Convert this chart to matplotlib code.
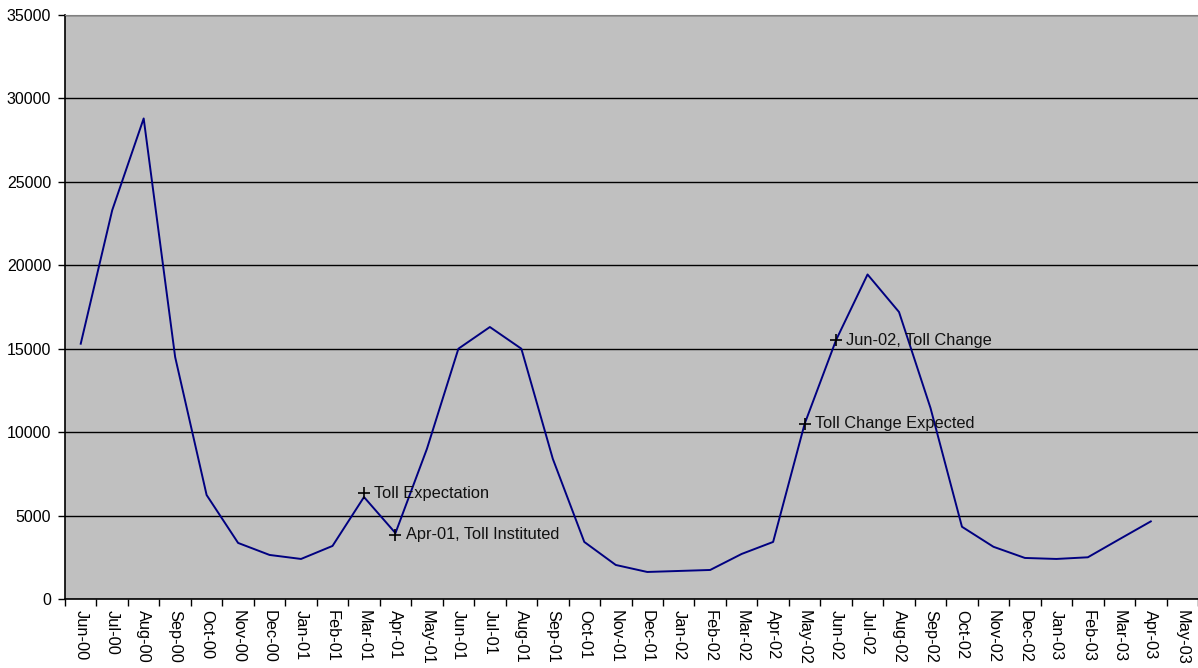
import matplotlib.pyplot as plt
import numpy as np

plt.rcParams['font.family'] = ['Liberation Sans', 'DejaVu Sans']

months = ['Jun-00', 'Jul-00', 'Aug-00', 'Sep-00', 'Oct-00', 'Nov-00', 'Dec-00',
          'Jan-01', 'Feb-01', 'Mar-01', 'Apr-01', 'May-01', 'Jun-01', 'Jul-01',
          'Aug-01', 'Sep-01', 'Oct-01', 'Nov-01', 'Dec-01', 'Jan-02', 'Feb-02',
          'Mar-02', 'Apr-02', 'May-02', 'Jun-02', 'Jul-02', 'Aug-02', 'Sep-02',
          'Oct-02', 'Nov-02', 'Dec-02', 'Jan-03', 'Feb-03', 'Mar-03', 'Apr-03',
          'May-03']

traffic = [15300, 23300, 28800, 14500, 6230, 3360, 2640, 2400, 3180, 6110,
           3950, 9000, 15000, 16300, 15000, 8400, 3420, 2040, 1620, 1680,
           1740, 2700, 3420, 10490, 15520, 19450, 17200, 11450, 4330, 3130,
           2460, 2400, 2500, 3580, 4650]

event_months = ['Mar-01', 'Apr-01', 'May-02', 'Jun-02']
event_values = [6350, 3850, 10490, 15500]
event_labels = ['Toll Expectation', 'Apr-01, Toll Instituted',
                'Toll Change Expected', 'Jun-02, Toll Change']


def plot_traffic() -> None:
    fig = plt.figure(figsize=(11.98, 6.68), dpi=100)
    ax = fig.add_axes([65 / 1198, 1 - 599 / 668, 1 - 65 / 1198, 584 / 668])
    ax.set_facecolor('#c0c0c0')

    x = np.arange(len(traffic))
    ax.plot(x, traffic, color='#000080', lw=1.4, zorder=3)

    ex = [months.index(m) for m in event_months]
    ax.scatter(ex, event_values, marker='+', color='black', s=70,
               linewidths=1.2, zorder=4)
    for xi, yi, lab in zip(ex, event_values, event_labels):
        ax.annotate(lab, (xi, yi), xytext=(7.5, 0), textcoords='offset points',
                    va='center', ha='left', fontsize=11.8, color='#111111',
                    zorder=5)

    ax.set_xlim(-0.5, len(months) - 0.5)
    ax.set_ylim(0, 35000)
    ax.set_yticks(np.arange(0, 35001, 5000))
    ax.yaxis.grid(True, color='black', lw=1)
    ax.set_axisbelow(True)

    ax.set_xticks(np.arange(len(months)))
    ax.set_xticklabels(months, rotation=270, fontsize=11.8)
    ax.set_xticks(np.arange(len(months) + 1) - 0.5, minor=True)
    ax.tick_params(axis='x', which='major', length=0, pad=8)
    ax.tick_params(axis='x', which='minor', length=5, width=1, direction='out')
    ax.tick_params(axis='y', length=5, width=1, direction='out', labelsize=11.5,
                   pad=5)

    for side in ['left', 'bottom']:
        ax.spines[side].set_color('black')
        ax.spines[side].set_linewidth(1.2)
    ax.spines['top'].set_color('#808080')
    ax.spines['right'].set_visible(False)

    fig.savefig('out.png', dpi=100)


if __name__ == '__main__':
    plot_traffic()
